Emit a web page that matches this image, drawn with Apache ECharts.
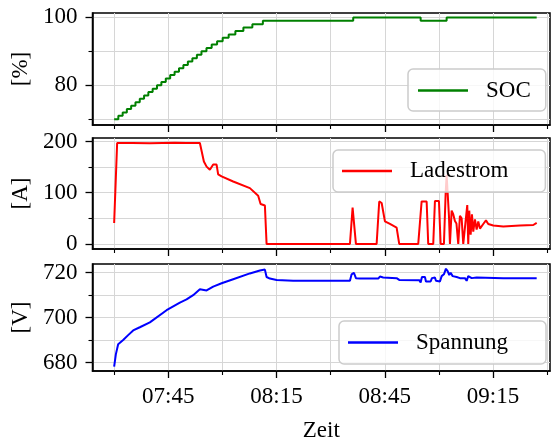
<!DOCTYPE html>
<html><head><meta charset="utf-8">
<script src="https://cdn.jsdelivr.net/npm/echarts@6/dist/echarts.min.js"></script>
<style>html,body{margin:0;padding:0;background:#fff}#c{width:553px;height:443px}</style>
</head><body><div id="c"></div>
<script>
// time in minutes since midnight
const socTime = [450.00,451.16,452.36,453.52,454.71,455.91,457.10,458.29,459.48,460.67,461.87,463.09,464.31,465.53,466.75,467.97,469.19,470.43,471.68,472.93,474.20,475.59,477.03,478.53,480.08,481.74,483.60,485.82,488.31,491.22,516.26,534.95,542.15,567.11];
const socValue = [70,71,72,73,74,75,76,77,78,79,80,81,82,83,84,85,86,87,88,89,90,91,92,93,94,95,96,97,98,99,100,99,100,100];

const currentTime = [450.00,450.83,455.0,459.9,466.8,470.0,473.76,474.23,474.87,475.62,476.53,477.00,477.45,477.92,478.39,478.83,479.78,482.99,487.62,489.92,490.59,491.78,492.25,515.35,516.09,517.01,522.75,523.47,524.14,525.05,526.44,528.29,529.01,534.28,535.22,536.61,537.05,538.44,538.91,540.02,540.49,541.40,541.88,542.15,542.43,542.79,543.07,543.54,543.98,544.45,544.87,545.37,545.84,546.31,546.76,547.23,547.87,548.14,548.42,548.81,549.17,549.53,550.00,550.47,550.92,551.39,552.30,553.05,553.69,555.07,557.85,562.48,566.16,567.11];
const currentValue = [41,197,197,196.5,197.5,197,197,194,161,151,145,143,155,158,155,136,132,122,109,94,78,75,0,0,71,0,0,83,80,44,39,32,0,0,83,83,0,0,84,84,0,0,99,135,100,55,0,65,58,45,40,0,55,50,0,0,76,0,65,18,58,24,48,28,44,30,39,46,39,36,34,36,37,41];

const voltageTime = [450.00,450.47,451.11,452.50,453.88,455.27,457.12,459.90,464.53,468.22,470.07,471.90,473.76,474.23,475.62,477.45,479.78,482.99,487.62,490.39,491.78,492.25,493.17,495.02,499.63,515.35,515.82,516.45,517.01,518.12,523.19,523.66,524.58,528.29,529.01,534.56,534.95,535.31,536.14,536.42,537.72,538.08,538.91,539.19,540.30,540.77,541.40,541.96,542.43,542.88,543.26,543.82,544.93,545.84,547.23,547.70,548.14,549.09,550.47,557.85,567.11];
const voltageValue = [678.2,683.6,688.1,690.0,692.2,694.3,695.7,697.9,703.3,706.7,708.1,710.0,712.6,713.0,712.1,713.8,715.3,717.1,719.7,721.0,721.4,718.1,717.4,716.8,716.4,716.4,719.3,720.0,717.6,717.4,717.4,718.3,717.9,717.6,716.8,716.7,715.7,718.1,718.1,716.1,716.1,717.6,717.9,716.4,716.1,718.5,719.3,721.8,720.7,719.0,720.0,718.5,718.1,717.6,717.6,716.4,718.5,717.6,717.9,717.6,717.6];

const xMajorTicks = [465, 495, 525, 555];
const xMinorTicks = [450, 480, 510, 540, 570];
const socMajor = [80, 100], socMinor = [70, 90];
const curMajor = [0, 100, 200], curMinor = [50, 150];
const voltMajor = [680, 700, 720], voltMinor = [690, 710];

const zip = (a, b) => a.map((t, i) => [t, b[i]]);
const FONT = 'Liberation Serif';
const XMIN = 444, XMAX = 570.8;
const grids = [
  {left: 92.5, right: 3, top: 13, height: 112},
  {left: 92.5, right: 3, top: 138, height: 111},
  {left: 92.5, right: 3, top: 264, height: 110}
].map(g => Object.assign(g, {show: true, borderColor: '#000', borderWidth: 1.5, backgroundColor: 'transparent'}));

const fmt = v => { const h = Math.floor(v / 60), m = Math.round(v - h * 60); return String(h).padStart(2, '0') + ':' + String(m).padStart(2, '0'); };
const gridLine = {show: true, lineStyle: {color: '#d6d6d6', width: 1}};

function xAxes(gi, labels) {
  return [
    {type: 'value', gridIndex: gi, min: XMIN, max: XMAX, position: 'bottom',
     axisLine: {show: true, onZero: false, lineStyle: {color: '#000', width: 1.5}},
     axisTick: {show: true, customValues: xMajorTicks, length: 7, lineStyle: {color: '#000', width: 1.3}},
     axisLabel: {show: labels, customValues: xMajorTicks, formatter: fmt, margin: 14, fontFamily: FONT, fontSize: 23, color: '#000'},
     splitLine: gridLine,
     name: labels ? 'Zeit' : '', nameLocation: 'middle', nameGap: 48, nameTextStyle: {fontFamily: FONT, fontSize: 23, color: '#000'}},
    {type: 'value', gridIndex: gi, min: XMIN, max: XMAX, position: 'bottom',
     axisLine: {show: false, onZero: false},
     axisTick: {show: true, customValues: xMinorTicks, length: 4, lineStyle: {color: '#000', width: 1.1}},
     axisLabel: {show: false, customValues: xMinorTicks},
     splitLine: gridLine}
  ];
}
function yAxes(gi, min, max, major, minor, name) {
  return [
    {type: 'value', gridIndex: gi, min: min, max: max, position: 'left',
     axisLine: {show: true, onZero: false, lineStyle: {color: '#000', width: 1.5}},
     axisTick: {show: true, customValues: major, length: 7, lineStyle: {color: '#000', width: 1.3}},
     axisLabel: {show: true, customValues: major, margin: 15, fontFamily: FONT, fontSize: 23, color: '#000'},
     splitLine: gridLine,
     name: name, nameLocation: 'middle', nameGap: 58, nameRotate: 90,
     nameTextStyle: {fontFamily: FONT, fontSize: 23, color: '#000'}},
    {type: 'value', gridIndex: gi, min: min, max: max, position: 'left',
     axisLine: {show: false, onZero: false},
     axisTick: {show: true, customValues: minor, length: 4, lineStyle: {color: '#000', width: 1.1}},
     axisLabel: {show: false, customValues: minor},
     splitLine: gridLine}
  ];
}

function legend(name, left, top, padding) {
  return {data: [name], left: left, top: top, orient: 'horizontal', selectedMode: false,
    icon: 'rect', itemWidth: 50, itemHeight: 2.6, padding: padding,
    backgroundColor: 'rgba(255,255,255,0.8)', borderColor: '#cccccc', borderWidth: 1.5, borderRadius: 5,
    textStyle: {fontFamily: FONT, fontSize: 23, color: '#000', padding: [0, 0, 0, 13]}};
}

const option = {
  animation: false,
  textStyle: {fontFamily: FONT},
  grid: grids,
  xAxis: [].concat(xAxes(0, false), xAxes(1, false), xAxes(2, true)),
  yAxis: [].concat(
    yAxes(0, 68.3, 101.3, socMajor, socMinor, '[%]'),
    yAxes(1, -9.85, 206.85, curMajor, curMinor, '[A]'),
    yAxes(2, 676.2, 723.9, voltMajor, voltMinor, '[V]')),
  legend: [
    legend('SOC', 408, 69, [10, 15, 9, 10]),
    legend('Ladestrom', 333, 150, [9.5, 37, 9.5, 9]),
    legend('Spannung', 339, 321, [10, 38, 10, 9])
  ],
  series: [
    {name: 'SOC', type: 'line', xAxisIndex: 0, yAxisIndex: 0, step: 'end', showSymbol: false, symbol: 'none',
     data: zip(socTime, socValue), lineStyle: {color: '#008000', width: 2}, itemStyle: {color: '#008000'}},
    {name: 'Ladestrom', type: 'line', xAxisIndex: 2, yAxisIndex: 2, showSymbol: false, symbol: 'none',
     data: zip(currentTime, currentValue), lineStyle: {color: '#ff0000', width: 2}, itemStyle: {color: '#ff0000'}},
    {name: 'Spannung', type: 'line', xAxisIndex: 4, yAxisIndex: 4, showSymbol: false, symbol: 'none',
     data: zip(voltageTime, voltageValue), lineStyle: {color: '#0000ff', width: 2}, itemStyle: {color: '#0000ff'}}
  ]
};
const chart = echarts.init(document.getElementById('c'), null, {renderer: 'canvas'});
chart.setOption(option);
</script></body></html>
